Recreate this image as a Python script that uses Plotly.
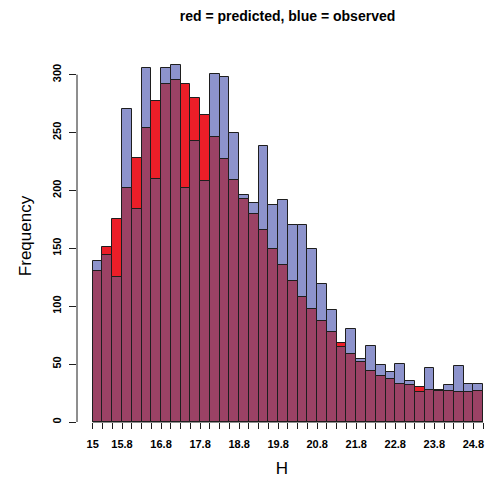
import plotly.graph_objects as go

# Histogram of H: bin breaks every 0.25 from 15 to 25
bin_start = 15.0
bin_width = 0.25
observed = [139, 144, 125, 270, 184, 306, 210, 306, 308, 202,
            243, 208, 301, 298, 250, 196, 189, 238, 187, 192,
            170, 170, 149, 119, 97, 65, 80, 54, 66, 49,
            43, 50, 35, 26, 47, 28, 32, 48, 33, 33]
predicted = [130, 151, 175, 202, 228, 254, 277, 292, 295, 292,
             280, 265, 246, 227, 209, 193, 180, 166, 149, 136,
             122, 108, 98, 87, 78, 68, 59, 52, 44, 40,
             37, 33, 32, 30, 28, 27, 27, 26, 26, 27]
y_ticks = [0, 50, 100, 150, 200, 250, 300]

n_bins = len(observed)
centers = [bin_start + bin_width * (i + 0.5) for i in range(n_bins)]
breaks = [bin_start + bin_width * i for i in range(n_bins + 1)]
# labels that survive R's overlap thinning: first break, then every 4th from the 4th
labelled = {0} | set(range(3, n_bins + 1, 4))
break_text = [f"{b:.1f}".rstrip("0").rstrip(".") if i == 0 else f"{b + 1e-9:.1f}"
              if i in labelled else "" for i, b in enumerate(breaks)]

overlap = [min(o, p) for o, p in zip(observed, predicted)]

BLUE = "rgb(141,147,204)"
RED = "rgb(236,30,40)"
MIX = "rgb(155,66,101)"
EDGE = "rgb(30,30,30)"

fig = go.Figure()
for vals, col, name in [(observed, BLUE, "observed"),
                        (predicted, RED, "predicted"),
                        (overlap, MIX, "both")]:
    fig.add_trace(go.Bar(x=centers, y=vals, width=bin_width, name=name,
                         marker=dict(color=col, line=dict(color=EDGE, width=1))))

font = "Liberation Sans, Arial, sans-serif"
x_left = 14.597
fig.update_layout(
    width=489, height=478,
    margin=dict(l=77, r=2, t=50, b=56),
    barmode="overlay", bargap=0, showlegend=False,
    plot_bgcolor="white", paper_bgcolor="white",
    font=dict(family=font, color="black"),
    title=dict(text="<b>red = predicted, blue = observed</b>",
               x=287.5 / 489, xref="container", xanchor="center",
               y=1 - 16 / 478, yref="container", yanchor="middle",
               font=dict(size=14, family=font, color="black")),
    xaxis=dict(range=[x_left, 25.1], showgrid=False, zeroline=False, showline=False,
               tickvals=breaks, ticktext=[f"<b>{t}</b>" if t else "" for t in break_text],
               ticks="outside", ticklen=6, tickwidth=1, tickcolor=EDGE,
               ticklabelstandoff=6,
               tickfont=dict(size=11, family=font, color="black"),
               title=dict(text="H", font=dict(size=17, family=font), standoff=14)),
    yaxis=dict(range=[0, 321.3], showgrid=False, zeroline=False, showline=False,
               tickvals=y_ticks, ticktext=[f"<b>{v}</b>" for v in y_ticks],
               tickangle=-90, ticks="outside", ticklen=7, tickwidth=1, tickcolor=EDGE,
               ticklabelstandoff=4,
               tickfont=dict(size=11, family=font, color="black"),
               title=dict(text="Frequency", font=dict(size=17, family=font), standoff=14)),
)

# R-style axis lines spanning only the tick range
fig.add_shape(type="line", xref="paper", yref="y", x0=0, x1=0,
              y0=y_ticks[0], y1=y_ticks[-1], line=dict(color=EDGE, width=1))
fig.add_shape(type="line", xref="x", yref="paper", x0=breaks[0], x1=breaks[-1],
              y0=0, y1=0, line=dict(color=EDGE, width=1))

fig.write_html("out.html")
